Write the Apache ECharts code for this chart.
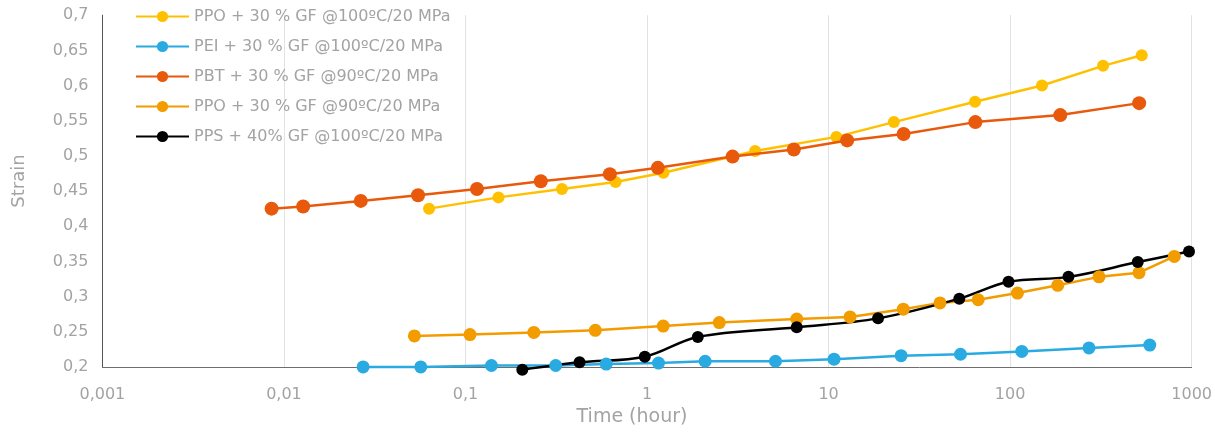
<!DOCTYPE html>
<html>
<head>
<meta charset="utf-8">
<script src="https://cdn.jsdelivr.net/npm/echarts@6/dist/echarts.min.js"></script>
<style>
  html, body { margin: 0; padding: 0; background: #fff; }
  #chart { width: 1215px; height: 432px; }
</style>
</head>
<body>
<div id="chart"></div>
<script>
// Creep strain vs. time (log scale) for glass-fibre reinforced grades
const seriesNames = [
  'PPO + 30 % GF @100ºC/20 MPa',
  'PEI + 30 % GF @100ºC/20 MPa',
  'PBT + 30 % GF @90ºC/20 MPa',
  'PPO + 30 % GF @90ºC/20 MPa',
  'PPS + 40% GF @100ºC/20 MPa'
];

// time in hours
const ppo100Time = [0.063, 0.152, 0.34, 0.671, 1.232, 3.94, 11.04, 22.9, 64.1, 149.8, 325, 531];
const ppo100Strain = [0.425, 0.441, 0.453, 0.463, 0.476, 0.507, 0.527, 0.548, 0.577, 0.600, 0.628, 0.643];

const peiTime = [0.0273, 0.0567, 0.139, 0.314, 0.596, 1.157, 2.09, 5.10, 10.72, 25.1, 53.3, 116, 272, 588];
const peiStrain = [0.200, 0.200, 0.202, 0.202, 0.204, 0.2055, 0.208, 0.208, 0.211, 0.216, 0.218, 0.222, 0.227, 0.231];

const pbtTime = [0.00855, 0.01276, 0.0265, 0.0548, 0.1157, 0.260, 0.624, 1.147, 2.96, 6.44, 12.66, 25.9, 64.4, 189, 514];
const pbtStrain = [0.425, 0.428, 0.436, 0.444, 0.453, 0.464, 0.474, 0.483, 0.499, 0.509, 0.522, 0.531, 0.548, 0.558, 0.575];

const ppo90Time = [0.0523, 0.1059, 0.238, 0.519, 1.228, 2.50, 6.68, 13.13, 25.8, 41.1, 66.7, 109.8, 183, 309, 513, 803];
const ppo90Strain = [0.244, 0.246, 0.249, 0.252, 0.258, 0.263, 0.268, 0.271, 0.282, 0.291, 0.2955, 0.305, 0.316, 0.328, 0.334, 0.357];

const ppsTime = [0.2056, 0.425, 0.972, 1.904, 6.68, 18.73, 52.5, 98.0, 209.6, 505, 967];
const ppsStrain = [0.196, 0.2065, 0.2145, 0.2425, 0.2563, 0.269, 0.297, 0.321, 0.328, 0.349, 0.364];

const colors = ['#FFC000', '#29ABE2', '#E8590C', '#F39C00', '#000000'];
const markerSizes = [12, 13, 14, 13, 12];

function pairs(xs, ys) {
  return xs.map((x, i) => [x, ys[i]]);
}

const dataSets = [
  pairs(ppo100Time, ppo100Strain),
  pairs(peiTime, peiStrain),
  pairs(pbtTime, pbtStrain),
  pairs(ppo90Time, ppo90Strain),
  pairs(ppsTime, ppsStrain)
];

const commaNum = v => String(parseFloat(Number(v).toFixed(4))).replace('.', ',');
const FONT = '"DejaVu Sans", "Noto Sans", sans-serif';
const GREY = '#a3a3a3';

const chart = echarts.init(document.getElementById('chart'), null, { renderer: 'canvas' });

chart.setOption({
  animation: false,
  textStyle: { fontFamily: FONT },
  grid: { left: 102.4, right: 22.4, top: 15.2, bottom: 65.1, containLabel: false },
  legend: {
    orient: 'vertical',
    left: 135,
    top: 7,
    padding: 0,
    itemGap: 11,
    itemWidth: 53,
    itemHeight: 14,
    data: seriesNames,
    textStyle: { color: GREY, fontSize: 16, fontFamily: FONT, lineHeight: 19 }
  },
  xAxis: {
    type: 'log',
    logBase: 10,
    min: 0.001,
    max: 1000,
    name: 'Time (hour)',
    nameLocation: 'middle',
    nameGap: 40,
    nameTextStyle: { color: GREY, fontSize: 19, fontFamily: FONT, padding: [0, 30, 0, 0] },
    axisLine: { show: true, onZero: false, lineStyle: { color: '#6e6e6e', width: 1 } },
    axisTick: { show: false },
    axisLabel: { color: GREY, fontSize: 16, margin: 20, formatter: v => commaNum(v) },
    splitLine: { show: true, lineStyle: { color: '#e2e2e2', width: 1 } },
    minorTick: { show: false }
  },
  yAxis: {
    type: 'value',
    min: 0.2,
    max: 0.7,
    interval: 0.05,
    name: 'Strain',
    nameLocation: 'middle',
    nameGap: 74,
    nameTextStyle: { color: GREY, fontSize: 18, fontFamily: FONT, padding: [0, 0, 0, 20] },
    axisLine: { show: true, lineStyle: { color: '#555555', width: 1 } },
    axisTick: { show: false },
    axisLabel: { color: GREY, fontSize: 16, margin: 14, formatter: v => commaNum(v) },
    splitLine: { show: false }
  },
  series: dataSets.map((d, i) => ({
    name: seriesNames[i],
    type: 'line',
    data: d,
    clip: false,
    smooth: i === 4 ? 0.35 : false,
    symbol: 'circle',
    symbolSize: markerSizes[i],
    showSymbol: true,
    color: colors[i],
    lineStyle: { color: colors[i], width: 2.5 },
    itemStyle: { color: colors[i] },
    z: i === 2 ? 3 : 2
  }))
});
</script>
</body>
</html>
